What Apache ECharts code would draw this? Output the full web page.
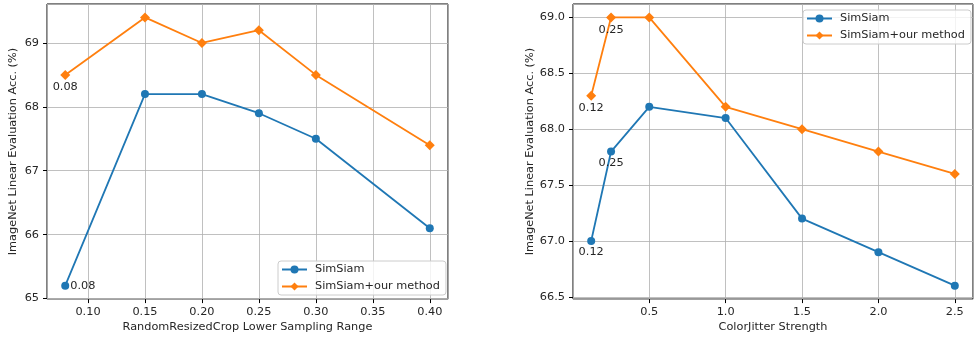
<!DOCTYPE html>
<html>
<head>
<meta charset="utf-8">
<script src="https://cdn.jsdelivr.net/npm/echarts@6/dist/echarts.min.js"></script>
<style>
  html, body { margin: 0; padding: 0; background: #fff; }
  #chart { width: 974px; height: 338px; }
</style>
</head>
<body>
<div id="chart"></div>
<script>
// left panel: RandomResizedCrop lower bound
const cropX = [0.08, 0.15, 0.20, 0.25, 0.30, 0.40]
const cropSimSiam = [65.2, 68.2, 68.2, 67.9, 67.5, 66.1]
const cropOurs = [68.5, 69.4, 69.0, 69.2, 68.5, 67.4]

// right panel: ColorJitter strength
const jitterX = [0.12, 0.25, 0.5, 1.0, 1.5, 2.0, 2.5]
const jitterSimSiam = [67.0, 67.8, 68.2, 68.1, 67.2, 66.9, 66.6]
const jitterOurs = [68.3, 69.0, 69.0, 68.2, 68.0, 67.8, 67.6]

const seriesNames = ['SimSiam', 'SimSiam+our method']

const BLUE = '#1f77b4'
const ORANGE = '#ff7f0e'
const FONT = 'DejaVu Sans'
const FS = 11.3
const TEXT = '#262626'

// annotate some points with their x value
const toData = (xs, ys, notes) => xs.map((x, i) => {
  const item = { value: [x, ys[i]] }
  if (notes[i]) {
    item.label = {
      show: true,
      position: notes[i],
      distance: notes[i] === 'right' ? 1 : 2,
      formatter: () => x.toFixed(2),
      color: TEXT,
      fontFamily: FONT,
      fontSize: FS
    }
  }
  return item
})

const makeSeries = (name, xs, ys, idx, color, symbol, size, notes) => ({
  name,
  type: 'line',
  xAxisIndex: idx,
  yAxisIndex: idx,
  data: toData(xs, ys, notes),
  symbol,
  symbolSize: size,
  showAllSymbol: true,
  lineStyle: { color, width: 1.8 },
  itemStyle: { color },
  emphasis: { disabled: true },
  z: name === seriesNames[1] ? 3 : 2
})

const axisCommon = {
  type: 'value',
  nameLocation: 'middle',
  nameTextStyle: { color: TEXT, fontFamily: FONT, fontSize: FS },
  axisLine: { show: false },
  axisTick: { show: true, length: 4, lineStyle: { color: '#000' } },
  splitLine: { show: true, lineStyle: { color: '#b0b0b0', width: 0.8 } }
}

const xAxisOf = (idx, min, max, split, name, digits) => Object.assign({}, axisCommon, {
  gridIndex: idx,
  min, max,
  splitNumber: split,
  name,
  nameGap: 22,
  axisLabel: {
    color: TEXT, fontFamily: FONT, fontSize: FS, margin: 7,
    showMinLabel: false, showMaxLabel: false,
    formatter: v => v.toFixed(digits)
  }
})

const yAxisOf = (idx, min, max, digits, gap) => Object.assign({}, axisCommon, {
  gridIndex: idx,
  min, max,
  name: 'ImageNet Linear Evaluation Acc. (%)',
  nameGap: gap,
  axisLabel: {
    color: TEXT, fontFamily: FONT, fontSize: FS, margin: 8,
    showMinLabel: false, showMaxLabel: false,
    formatter: v => v.toFixed(digits)
  }
})

const legendOf = (left, top) => ({
  data: seriesNames,
  orient: 'vertical',
  left, top,
  itemWidth: 25,
  itemHeight: 10,
  itemGap: 6,
  padding: [3, 6, 3, 3],
  borderColor: '#cccccc',
  borderWidth: 1,
  borderRadius: 3,
  backgroundColor: 'rgba(255,255,255,0.8)',
  textStyle: { color: TEXT, fontFamily: FONT, fontSize: FS, padding: [0, 0, 0, 3] },
  selectedMode: false
})

const chart = echarts.init(document.getElementById('chart'))

chart.setOption({
  animation: false,
  backgroundColor: '#fff',
  grid: [
    { left: 47, right: 526, top: 4, bottom: 35, show: true, borderColor: '#000', borderWidth: 1, backgroundColor: 'transparent' },
    { left: 573, right: 1, top: 4, bottom: 35, show: true, borderColor: '#000', borderWidth: 1, backgroundColor: 'transparent' }
  ],
  xAxis: [
    xAxisOf(0, 0.064, 0.416, 7, 'RandomResizedCrop Lower Sampling Range', 2),
    xAxisOf(1, 0.001, 2.619, 5, 'ColorJitter Strength', 1)
  ],
  yAxis: [
    yAxisOf(0, 64.99, 69.61, 0, 28),
    yAxisOf(1, 66.48, 69.12, 1, 37)
  ],
  legend: [legendOf(278, 261), legendOf(803, 10)],
  series: [
    makeSeries(seriesNames[0], cropX, cropSimSiam, 0, BLUE, 'circle', 8, ['right']),
    makeSeries(seriesNames[1], cropX, cropOurs, 0, ORANGE, 'diamond', 10, ['bottom']),
    makeSeries(seriesNames[0], jitterX, jitterSimSiam, 1, BLUE, 'circle', 8, ['bottom', 'bottom']),
    makeSeries(seriesNames[1], jitterX, jitterOurs, 1, ORANGE, 'diamond', 10, ['bottom', 'bottom'])
  ]
})
</script>
</body>
</html>
